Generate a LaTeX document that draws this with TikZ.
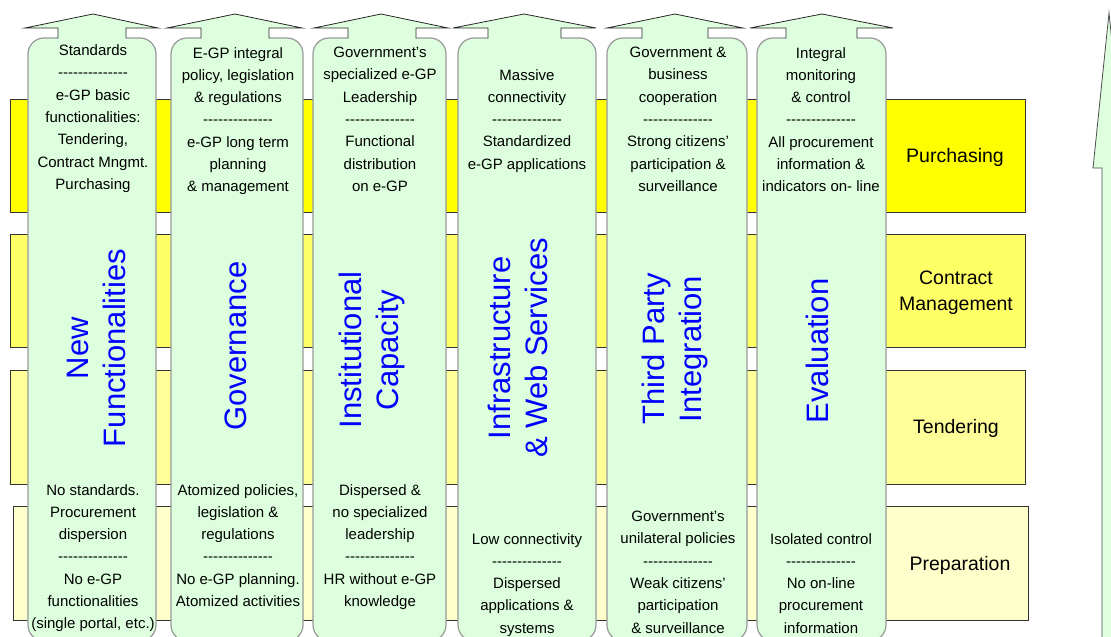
\documentclass[tikz,border=0pt]{standalone}
\usepackage{fontspec}
\setmainfont{Liberation Sans}
\definecolor{colgreen}{RGB}{221,255,221}
\definecolor{purch}{RGB}{255,255,0}
\definecolor{contr}{RGB}{255,255,102}
\definecolor{tend}{RGB}{255,255,153}
\definecolor{prep}{RGB}{255,255,204}
\newcommand\sepline{-\kern0pt-\kern0pt-\kern0pt-\kern0pt-\kern0pt-\kern0pt-\kern0pt-\kern0pt-\kern0pt-\kern0pt-\kern0pt-\kern0pt-\kern0pt-}

\begin{document}
\begin{tikzpicture}[x=1pt,y=-1pt,
    band/.style={draw=black!80,line width=0.8pt},
    column/.style={draw=black!40,fill=colgreen,line width=1.2pt,rounded corners=16pt},
    headline/.style={draw=black!85,line width=0.8pt},
    note/.style={font=\fontsize{15}{22.3}\selectfont,align=center,inner sep=0pt,anchor=north},
    theme/.style={font=\fontsize{31}{37}\selectfont,text=blue,align=center,rotate=90,inner sep=0pt},
    phase/.style={font=\fontsize{19.5}{26}\selectfont,align=center,inner sep=0pt}]
    \useasboundingbox (0,0) rectangle (1111,637);
    \clip (0,0) rectangle (1111,637);
    % phases
    \draw [band,fill=purch] (10,99) rectangle (1025,212);
    \draw [band,fill=contr] (10,234) rectangle (1025,347);
    \draw [band,fill=tend] (10,370) rectangle (1025,484);
    \draw [band,fill=prep] (13,506) rectangle (1028,620);
    \node [phase] (purchasing) at (955,157) {Purchasing};
    \node [phase] (contract) at (956,293) {Contract\\Management};
    \node [phase] (tendering) at (956,428) {Tendering};
    \node [phase] (preparation) at (960,565) {Preparation};
    % big arrow on the right
    \draw [black!70,fill=colgreen,line width=0.8pt] (1102,641) -- (1102,168) -- (1093,168) -- (1109,13) -- (1125,168) -- (1116,168) -- (1116,641);
    % column 1
    \draw [column] (28,38) rectangle (156,641);
    \fill [colgreen] (25,28) -- (93,14) -- (158,28) -- (126,28) -- (126,39) -- (58,39) -- (58,28) -- cycle;
    \draw [headline] (58,38.4) -- (58,28) -- (25,28) -- (93,14) -- (158,28) -- (126,28) -- (126,38.4);
    % column 2
    \draw [column] (171,38) rectangle (303,641);
    \fill [colgreen] (167,28) -- (235,14) -- (302,28) -- (269,28) -- (269,39) -- (201,39) -- (201,28) -- cycle;
    \draw [headline] (201,38.4) -- (201,28) -- (167,28) -- (235,14) -- (302,28) -- (269,28) -- (269,38.4);
    % column 3
    \draw [column] (313,38) rectangle (446,641);
    \fill [colgreen] (314,28) -- (381,14) -- (448,28) -- (416,28) -- (416,39) -- (348,39) -- (348,28) -- cycle;
    \draw [headline] (348,38.4) -- (348,28) -- (314,28) -- (381,14) -- (448,28) -- (416,28) -- (416,38.4);
    % column 4
    \draw [column] (458,38) rectangle (596,641);
    \fill [colgreen] (453,28) -- (524,14) -- (596,28) -- (561,28) -- (561,39) -- (488,39) -- (488,28) -- cycle;
    \draw [headline] (488,38.4) -- (488,28) -- (453,28) -- (524,14) -- (596,28) -- (561,28) -- (561,38.4);
    % column 5
    \draw [column] (607,38) rectangle (747,641);
    \fill [colgreen] (607,28) -- (675,14) -- (743,28) -- (708,28) -- (708,39) -- (642,39) -- (642,28) -- cycle;
    \draw [headline] (642,38.4) -- (642,28) -- (607,28) -- (675,14) -- (743,28) -- (708,28) -- (708,38.4);
    % column 6
    \draw [column] (757,38) rectangle (886,641);
    \fill [colgreen] (750,28) -- (822,14) -- (893,28) -- (857,28) -- (857,39) -- (786,39) -- (786,28) -- cycle;
    \draw [headline] (786,38.4) -- (786,28) -- (750,28) -- (822,14) -- (893,28) -- (857,28) -- (857,38.4);
    % column titles
    \node [theme] (newfun) at (96,348) {New\\Functionalities};
    \node [theme] (govern) at (236,346) {Governance};
    \node [theme] (instcap) at (372,350) {Institutional\\Capacity};
    \node [theme] (infra) at (518,348) {Infrastructure\\\& Web Services};
    \node [theme] (third) at (675,349) {Third Party\\Integration};
    \node [theme] (evalu) at (817,351) {Evaluation};
    % targets (top)
    \node [note] (top1) at (93,44.5) {Standards\\\sepline\\e-GP basic\\functionalities:\\Tendering,\\Contract Mngmt.\\Purchasing};
    \node [note] (top2) at (238,47) {E-GP integral\\policy, legislation\\\& regulations\\\sepline\\e-GP long term\\planning\\\& management};
    \node [note] (top3) at (380,47) {Government’s\\specialized e-GP\\Leadership\\\sepline\\Functional\\distribution\\on e-GP};
    \node [note] (top4) at (527,69) {Massive\\connectivity\\\sepline\\Standardized\\e-GP applications};
    \node [note] (top5) at (678,47) {Government \&\\business\\cooperation\\\sepline\\Strong citizens’\\participation \&\\surveillance};
    \node [note] (top6) at (821,47) {Integral\\monitoring\\\& control\\\sepline\\All procurement\\information \&\\indicators on- line};
    % starting points (bottom)
    \node [note] (bot1) at (93,484) {No standards.\\Procurement\\dispersion\\\sepline\\No e-GP\\functionalities\\(single portal, etc.)};
    \node [note] (bot2) at (238,484) {Atomized policies,\\legislation \&\\regulations\\\sepline\\No e-GP planning.\\Atomized activities};
    \node [note] (bot3) at (380,484) {Dispersed \&\\no specialized\\leadership\\\sepline\\HR without e-GP\\knowledge};
    \node [note] (bot4) at (527,533) {Low connectivity\\\sepline\\Dispersed\\applications \&\\systems};
    \node [note] (bot5) at (678,511) {Government’s\\unilateral policies\\\sepline\\Weak citizens’\\participation\\\& surveillance};
    \node [note] (bot6) at (821,533) {Isolated control\\\sepline\\No on-line\\procurement\\information};
\end{tikzpicture}
\end{document}
